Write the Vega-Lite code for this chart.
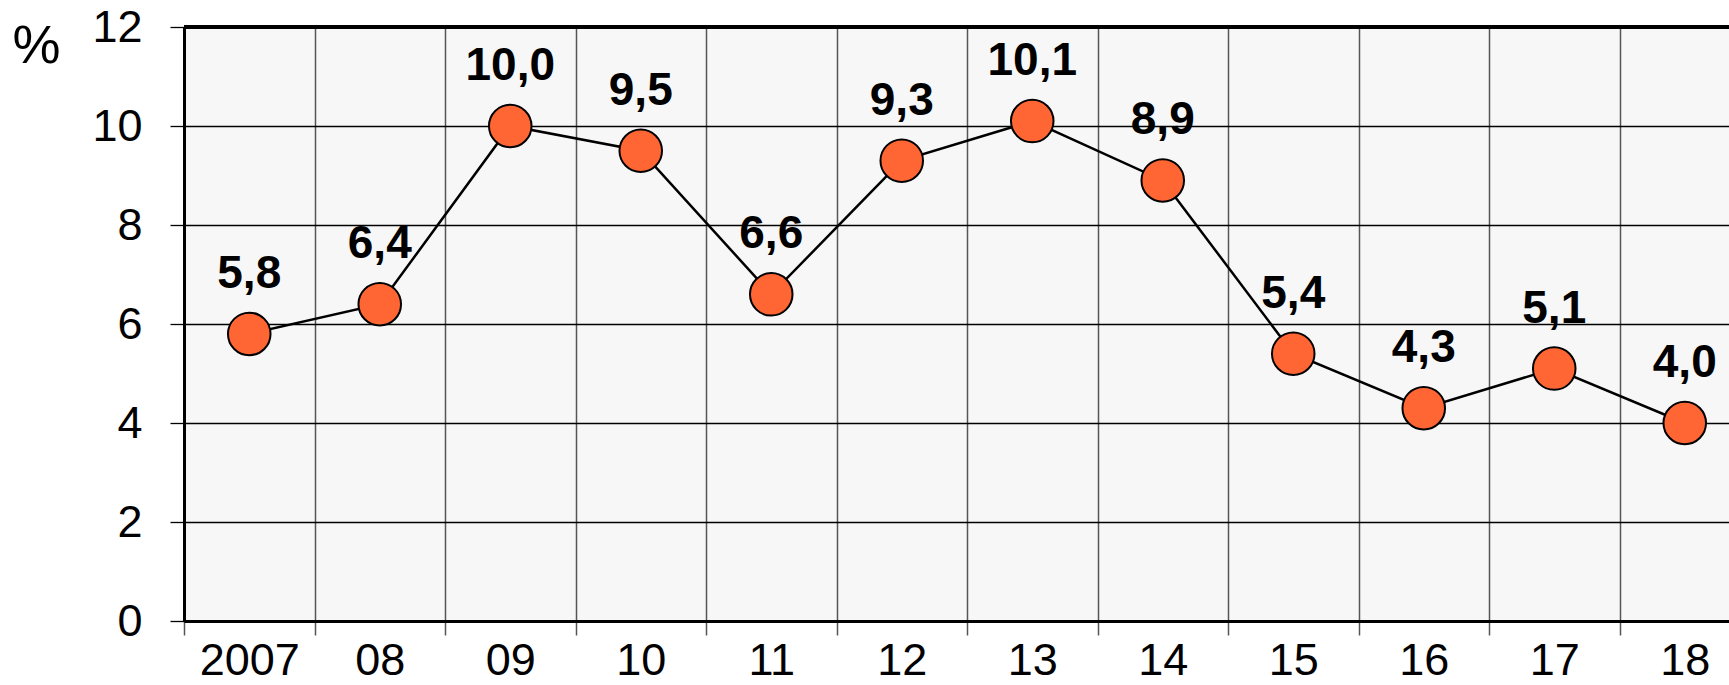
{
  "$schema": "https://vega.github.io/schema/vega-lite/v6.json",
  "autosize": {"type": "none"},
  "padding": {"left": 184, "top": 27, "right": 0, "bottom": 64},
  "width": 1545,
  "height": 594,
  "background": "white",
  "config": {
    "font": "Liberation Sans",
    "view": {"fill": "#F7F7F7", "stroke": null},
    "locale": {"number": {"decimal": ",", "thousands": ".", "grouping": [3], "currency": ["", ""]}}
  },
  "data": {
    "values": [
      {"year": "2007", "value": 5.8},
      {"year": "08", "value": 6.4},
      {"year": "09", "value": 10.0},
      {"year": "10", "value": 9.5},
      {"year": "11", "value": 6.6},
      {"year": "12", "value": 9.3},
      {"year": "13", "value": 10.1},
      {"year": "14", "value": 8.9},
      {"year": "15", "value": 5.4},
      {"year": "16", "value": 4.3},
      {"year": "17", "value": 5.1},
      {"year": "18", "value": 4.0}
    ]
  },
  "encoding": {
    "x": {
      "field": "year",
      "type": "ordinal",
      "sort": null,
      "scale": {"type": "band", "paddingInner": 0, "paddingOuter": 0, "range": [0, 1566]},
      "axis": {
        "title": null,
        "labelAngle": 0,
        "labelFontSize": 45,
        "labelColor": "black",
        "labelPadding": 3,
        "tickBand": "extent",
        "tickSize": 14,
        "tickColor": "#555",
        "tickWidth": 1.5,
        "grid": true,
        "gridColor": "#555",
        "gridWidth": 1.5,
        "domainColor": "black",
        "domainWidth": 3,
        "zindex": 0
      }
    },
    "y": {
      "field": "value",
      "type": "quantitative",
      "scale": {"domain": [0, 12], "nice": false},
      "axis": {
        "values": [0, 2, 4, 6, 8, 10, 12],
        "title": "%",
        "titleAngle": 0,
        "titleX": -148,
        "titleY": 35,
        "titleAlign": "center",
        "titleBaseline": "alphabetic",
        "titleFontSize": 54,
        "titleFontWeight": "normal",
        "titleColor": "black",
        "labelFontSize": 45,
        "labelColor": "black",
        "labelPadding": 28,
        "tickSize": 14,
        "tickColor": "black",
        "tickWidth": 1.3,
        "grid": true,
        "gridColor": "black",
        "gridWidth": 1.3,
        "domainColor": "black",
        "domainWidth": 3,
        "zindex": 0
      }
    }
  },
  "layer": [
    {
      "mark": {"type": "rule", "color": "black", "strokeWidth": 3},
      "encoding": {"y": {"datum": 12}, "x": null}
    },
    {
      "mark": {"type": "line", "color": "black", "strokeWidth": 2.5}
    },
    {
      "mark": {"type": "point", "shape": "circle", "filled": true, "size": 1810, "fill": "#FF6633", "stroke": "black", "strokeWidth": 2, "opacity": 1}
    },
    {
      "mark": {"type": "text", "fontSize": 46, "fontWeight": "bold", "color": "black", "baseline": "alphabetic", "dy": -46},
      "encoding": {"text": {"field": "value", "type": "quantitative", "format": ".1f"}}
    }
  ]
}
